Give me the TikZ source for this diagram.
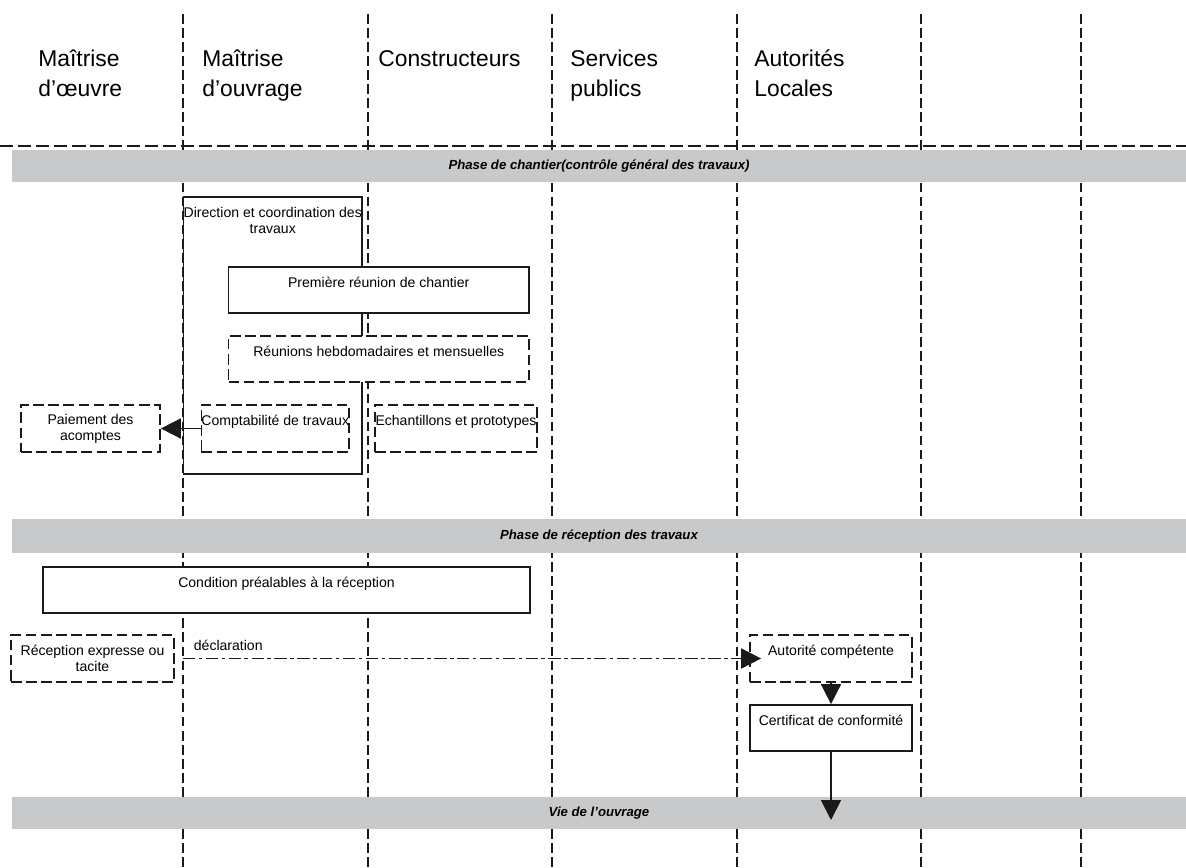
\documentclass[tikz,border=0pt]{standalone}
\usepackage{fontspec}
\setmainfont{Liberation Sans}
\usetikzlibrary{arrows.meta,positioning}
\definecolor{ink}{HTML}{1A1A1A}
\definecolor{bandgray}{HTML}{C8C9CB}

\begin{document}
\begin{tikzpicture}[
  x=0.02cm, y=-0.02cm,
  lane/.style={draw=ink, line width=0.75pt, dash pattern=on 5.5pt off 2.5pt},
  header/.style={anchor=north west, align=left, inner sep=0pt, font=\fontsize{13}{17}\selectfont},
  phase/.style={fill=bandgray, minimum width=23.48cm, inner sep=0pt, font=\fontsize{7.5}{8}\selectfont\bfseries\itshape},
  box/.style={draw=ink, line width=1pt, fill=white, inner sep=0pt, align=center, font=\fontsize{8}{9}\selectfont},
  dashbox/.style={box, dash pattern=on 6pt off 2.6pt},
  toptext/.style={text height=0.4cm, text depth=#1},
  arrow/.style={-{Triangle[length=0.4cm, width=0.4cm]}, draw=ink, line width=1pt}
]
\useasboundingbox (0,0) rectangle (1186,868);

% couloirs
\foreach \x in {183,368,552,737,921,1081}
  \draw[lane] (\x,14) -- (\x,868);
\draw[draw=ink, line width=0.75pt, dash pattern=on 7.5pt off 2.8pt] (0,146) -- (1186,146);

% acteurs
\node[header] (moe) at (38,50) {Maîtrise\\d’œuvre};
\node[header] (mouv) at (202,50) {Maîtrise\\d’ouvrage};
\node[header] (constr) at (378,50) {Constructeurs};
\node[header] (services) at (570,50) {Services\\publics};
\node[header] (autorites) at (754,49) {Autorités\\Locales};

% phases
\node[phase, minimum height=0.64cm] (phasechantier) at (599,166) {Phase de chantier(contrôle général des travaux)};
\node[phase, minimum height=0.68cm] (phasereception) at (599,536) {Phase de réception des travaux};
\node[phase, minimum height=0.64cm] (phasevie) at (599,813) {Vie de l’ouvrage};

% chantier
\node[box, minimum width=3.57cm, minimum height=5.54cm] (direction) at (272.75,335.5) {};
\node[box, draw=none, fill=none, below=0.2cm of direction.north] (directiontxt) {Direction et coordination des\\travaux};
\node[box, toptext=0.52cm, minimum width=6.01cm] (premiere) at (378.75,290) {Première réunion de chantier};
\node[dashbox, toptext=0.52cm, minimum width=6.01cm] (reunions) at (378.75,359) {Réunions hebdomadaires et mensuelles};
\node[dashbox, toptext=0.54cm, minimum width=2.79cm] (compta) at (275.25,428.5) {Comptabilité de travaux};
\node[dashbox, toptext=0.54cm, minimum width=3.24cm] (echantillons) at (456,428.5) {Echantillons et prototypes};
\node[dashbox, minimum width=2.78cm, minimum height=0.94cm] (paiement) at (90.5,428.5) {Paiement des\\acomptes};
\draw[arrow] (compta.west) -- (paiement.east);

% reception
\node[box, toptext=0.52cm, minimum width=9.74cm] (conditions) at (286.5,590) {Condition préalables à la réception};
\node[dashbox, minimum width=3.26cm, minimum height=0.94cm] (recep) at (92.5,658.5) {Réception expresse ou\\tacite};
\node[dashbox, toptext=0.54cm, minimum width=3.24cm] (autorite) at (831,658.5) {Autorité compétente};
\node[box, toptext=0.52cm, minimum width=3.24cm] (certificat) at (831,728) {Certificat de conformité};
\coordinate (declstart) at (183,658.5);
\coordinate (viein) at (831,820);
\draw[arrow, dash pattern=on 7pt off 2pt on 2pt off 2pt, shorten >=-0.24cm] (declstart) --
  node[pos=0, anchor=south west, inner sep=0pt, xshift=0.2cm, yshift=0.14cm, font=\fontsize{8}{9}\selectfont] {déclaration} (autorite.west);
\draw[arrow] (autorite.south) -- (certificat.north);
\draw[arrow] (certificat.south) -- (viein);
\end{tikzpicture}
\end{document}
